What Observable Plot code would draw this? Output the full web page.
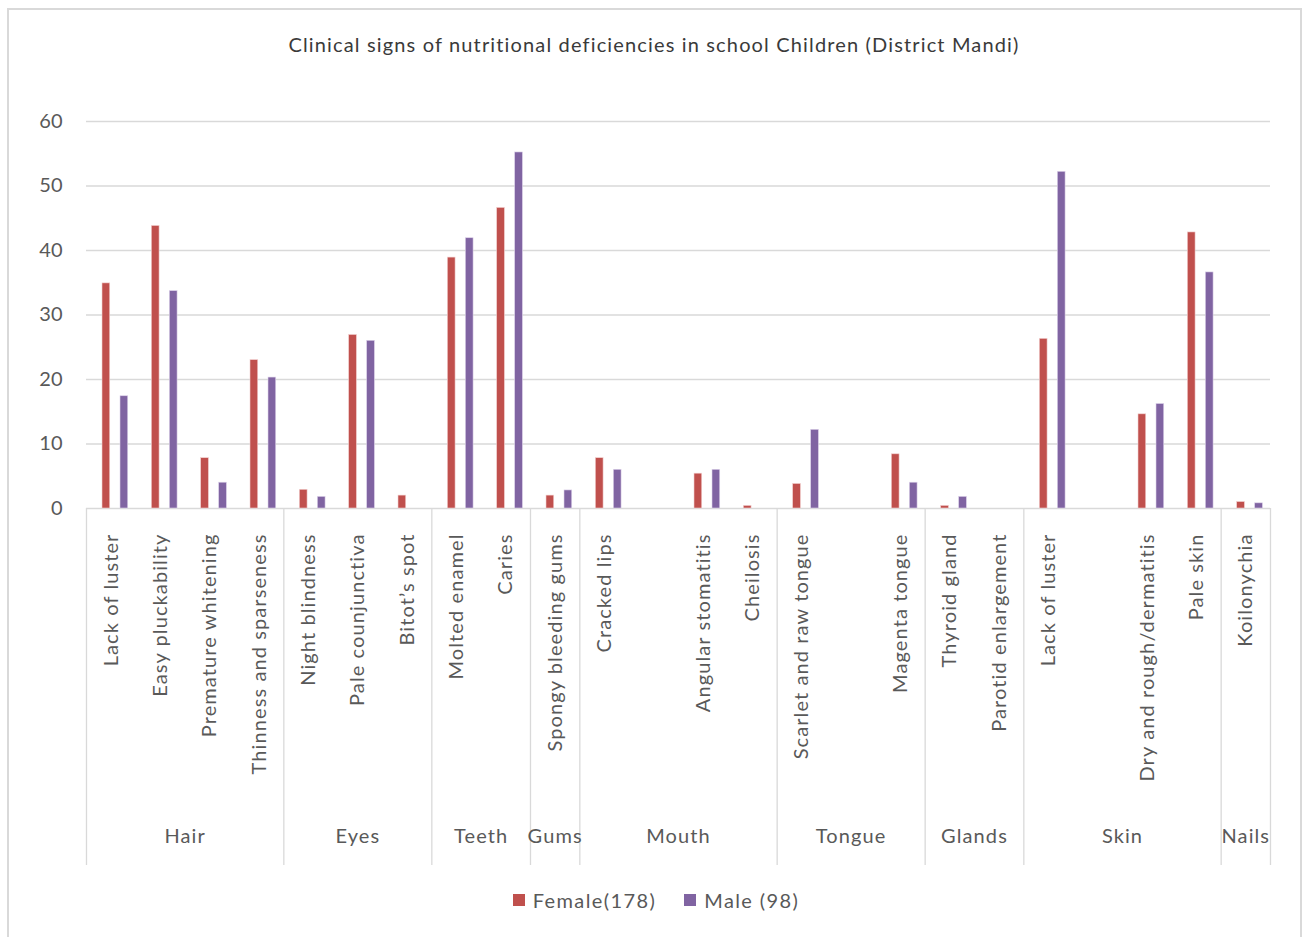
<!DOCTYPE html>
<html><head><meta charset="utf-8">
<script src="https://cdn.jsdelivr.net/npm/d3@7"></script>
<script src="https://cdn.jsdelivr.net/npm/@observablehq/plot@0.6"></script>
<style>
body{margin:0;background:#fff;font-family:Lato,"Open Sans",sans-serif;width:1306px;height:937px;overflow:hidden;position:relative;}
#frame{position:absolute;left:7px;top:8px;width:1291px;height:940px;border:2px solid #d9d9d9;border-bottom:none;}
#title{position:absolute;top:32px;left:8px;width:1292px;text-align:center;font-size:20px;letter-spacing:1.15px;color:#3a3a3a;}
#chart{position:absolute;left:0;top:70px;}
#chart g[aria-label="text"] text{letter-spacing:1.1px;}
#legend{position:absolute;top:888px;left:10px;width:1292px;display:flex;justify-content:center;align-items:center;font-size:20px;letter-spacing:1.4px;color:#595959;}
#legend .item{display:flex;align-items:center;margin:0 14px;}
#legend .sw{width:12px;height:12px;margin-right:8px;}
</style>
</head><body>
<div id="frame"></div>
<div id="title">Clinical signs of nutritional deficiencies in school Children (District Mandi)</div>
<div id="chart"></div>
<div id="legend"></div>
<script>
const groups = ["Hair","Eyes","Teeth","Gums","Mouth","Tongue","Glands","Skin","Nails"];
const groupSizes = [4,3,2,1,4,3,2,4,1];
const signs = ["Lack of luster","Easy pluckability","Premature whitening","Thinness and sparseness",
  "Night blindness","Pale counjunctiva","Bitot’s spot",
  "Molted enamel","Caries",
  "Spongy bleeding gums",
  "Cracked lips","","Angular stomatitis","Cheilosis",
  "Scarlet and raw tongue","","Magenta tongue",
  "Thyroid gland","Parotid enlargement",
  "Lack of luster","","Dry and rough/dermatitis","Pale skin",
  "Koilonychia"];
const female = [34.9,43.8,7.8,23.0, 2.9,26.9,2.0, 38.9,46.6, 2.0, 7.8,null,5.4,0.4, 3.8,null,8.4, 0.4,0, 26.3,null,14.6,42.8, 1.0];
const male   = [17.4,33.7,4.0,20.3, 1.8,26.0,0, 41.9,55.2, 2.8, 6.0,null,6.0,0, 12.2,null,4.0, 1.8,0, 52.2,null,16.2,36.6, 0.8];
const seriesNames = ["Female(178)","Male (98)"];
const seriesColors = ["#C0504D","#8064A2"];
const yTicks = [0,10,20,30,40,50,60];

// derived tables
const slots = signs.map((s,i)=>({i, label:s}));
const fRows = female.map((v,i)=>({i, i1:i+1, v})).filter(d=>d.v!=null && d.v>0);
const mRows = male.map((v,i)=>({i, i1:i+1, v})).filter(d=>d.v!=null && d.v>0);
let acc = 0;
const groupRows = groups.map((g,k)=>{const r={g, start:acc, mid:acc+groupSizes[k]/2}; acc+=groupSizes[k]; return r;});
const boundaries = groupRows.map(d=>d.start).concat([acc]);

const textColor = "#595959";
const chart = Plot.plot({
  width: 1306, height: 800,
  marginLeft: 86, marginRight: 36, marginTop: 51, marginBottom: 5,
  style: {fontFamily: "Lato, 'Open Sans', sans-serif", fontSize: "19px", color: textColor, background: "transparent"},
  x: {type: "linear", domain: [0, signs.length], axis: null},
  y: {domain: [0, 60], range: [438, 51], axis: null},
  marks: [
    Plot.gridY(yTicks, {stroke: "#d9d9d9", strokeOpacity: 1, strokeWidth: 1.3}),
    Plot.axisY(yTicks, {tickSize: 0, tickPadding: 24, fontSize: 20, label: null}),
    Plot.ruleX(boundaries, {x: d=>d, insetTop: 387, stroke: "#d9d9d9", strokeWidth: 1.3}),
    Plot.rectY(fRows, {x1: "i", x2: "i1", y1: 0, y2: "v", insetLeft: 16, insetRight: 25.6, fill: seriesColors[0], stroke: "#f2d0cf", strokeWidth: 0.6}),
    Plot.rectY(mRows, {x1: "i", x2: "i1", y1: 0, y2: "v", insetLeft: 34, insetRight: 7.6, fill: seriesColors[1], stroke: "#ddd3ea", strokeWidth: 0.6}),
    Plot.text(slots, {x: d=>d.i+0.5, y: 0, text: "label", rotate: -90, textAnchor: "end", lineAnchor: "middle", dy: 25, fontSize: 20, fill: textColor}),
    Plot.text(groupRows, {x: "mid", y: 0, text: "g", dy: 328, fontSize: 20, fill: textColor})
  ]
});
document.getElementById("chart").appendChild(chart);

const legend = document.getElementById("legend");
seriesNames.forEach((n,k)=>{
  const it = document.createElement("div"); it.className="item";
  const sw = document.createElement("div"); sw.className="sw"; sw.style.background=seriesColors[k];
  const tx = document.createElement("span"); tx.textContent=n;
  it.appendChild(sw); it.appendChild(tx); legend.appendChild(it);
});
</script>
</body></html>
